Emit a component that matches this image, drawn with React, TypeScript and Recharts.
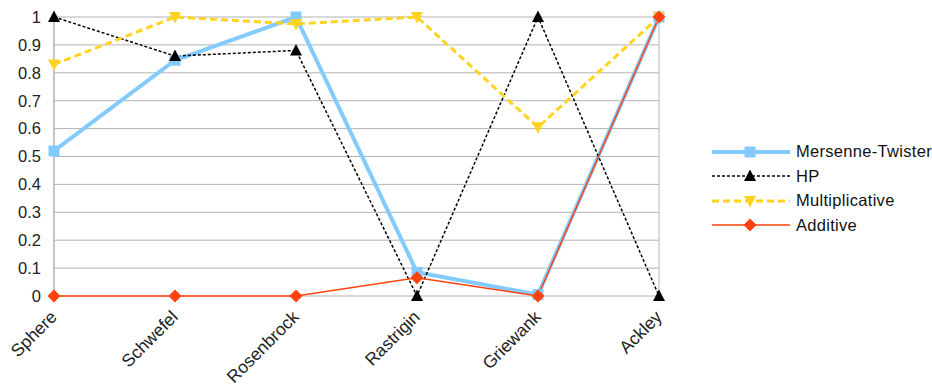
import React from 'react';
import { LineChart, Line, XAxis, YAxis, CartesianGrid } from 'recharts';

// Normalised results per benchmark function
const functions = ['Sphere', 'Schwefel', 'Rosenbrock', 'Rastrigin', 'Griewank', 'Ackley'];
const mersenneTwister = [0.52, 0.845, 1.0, 0.085, 0.005, 1.0];
const hp = [1.0, 0.86, 0.88, 0, 1.0, 0];
const multiplicative = [0.83, 1.0, 0.975, 1.0, 0.605, 1.0];
const additive = [0, 0, 0, 0.065, 0, 1.0];
const yTicks = [0, 0.1, 0.2, 0.3, 0.4, 0.5, 0.6, 0.7, 0.8, 0.9, 1];

const data = functions.map((name, i) => ({
  name,
  mt: mersenneTwister[i],
  hp: hp[i],
  mul: multiplicative[i],
  add: additive[i],
}));

const FONT = '"Liberation Sans", Arial, sans-serif';
const BLUE = '#83caff';
const YELLOW = '#ffd320';
const RED = '#ff420e';

type DotProps = { cx?: number; cy?: number; index?: number };

const Square = ({ cx = 0, cy = 0, color }: DotProps & { color: string }) => (
  <rect x={cx - 5.5} y={cy - 5.5} width={11} height={11} fill={color} />
);
const TriUp = ({ cx = 0, cy = 0, color }: DotProps & { color: string }) => (
  <path d={`M${cx},${cy - 6.5} L${cx + 6},${cy + 5} L${cx - 6},${cy + 5} Z`} fill={color} />
);
const TriDown = ({ cx = 0, cy = 0, color }: DotProps & { color: string }) => (
  <path d={`M${cx},${cy + 6.5} L${cx + 6},${cy - 5} L${cx - 6},${cy - 5} Z`} fill={color} />
);
const Diamond = ({ cx = 0, cy = 0, color }: DotProps & { color: string }) => (
  <path d={`M${cx},${cy - 6.5} L${cx + 6.5},${cy} L${cx},${cy + 6.5} L${cx - 6.5},${cy} Z`} fill={color} />
);

const series = [
  { key: 'mt', label: 'Mersenne-Twister', color: BLUE, width: 4, dash: undefined as string | undefined, Marker: Square },
  { key: 'hp', label: 'HP', color: '#000000', width: 1.5, dash: '3 2', Marker: TriUp },
  { key: 'mul', label: 'Multiplicative', color: YELLOW, width: 3, dash: '7 4', Marker: TriDown },
  { key: 'add', label: 'Additive', color: RED, width: 1.5, dash: undefined, Marker: Diamond },
];

const XTick = (props: any) => {
  const { x, y, payload } = props;
  const ax = x + 4;
  const ay = y + 14;
  return (
    <text
      x={ax}
      y={ay}
      transform={`rotate(-45 ${ax} ${ay})`}
      textAnchor="end"
      fontFamily={FONT}
      fontSize={17.5}
      fill="#222"
    >
      {payload.value}
    </text>
  );
};

const LegendBox = () => (
  <div
    style={{
      position: 'absolute',
      left: 712,
      top: 139.5,
      fontFamily: FONT,
      fontSize: 16.5,
      letterSpacing: 0.3,
      color: '#111',
    }}
  >
    {series.map((s) => (
      <div key={s.key} style={{ display: 'flex', alignItems: 'center', height: 24.5 }}>
        <svg width={84} height={16} style={{ display: 'block' }}>
          <line x1={0} y1={8} x2={78} y2={8} stroke={s.color} strokeWidth={s.width} strokeDasharray={s.dash} />
          <s.Marker cx={38} cy={8} color={s.color} />
        </svg>
        <span style={{ whiteSpace: 'nowrap' }}>{s.label}</span>
      </div>
    ))}
  </div>
);

export default function App() {
  return (
    <div style={{ position: 'absolute', left: 0, top: 0, width: 932, height: 386, overflow: 'hidden', background: '#fff' }}>
      <LineChart
        width={932}
        height={386}
        data={data}
        margin={{ top: 17, right: 273, bottom: 0, left: 0 }}
      >
        <CartesianGrid
          stroke="#b3b3b3"
          verticalCoordinatesGenerator={({ offset }: any) => [offset.left, offset.left + offset.width]}
        />
        <XAxis
          dataKey="name"
          height={90}
          axisLine={false}
          tickLine={false}
          interval={0}
          padding={{ left: 0, right: 0 }}
          tick={<XTick />}
        />
        <YAxis
          width={54}
          domain={[0, 1]}
          ticks={yTicks}
          interval={0}
          tickFormatter={(v: number) => String(Math.round(v * 10) / 10)}
          axisLine={{ stroke: '#b3b3b3' }}
          tickLine={false}
          tickMargin={7}
          tick={{ fontFamily: FONT, fontSize: 16.5, fill: '#222' }}
        />
        {series.map((s) => (
          <Line
            key={s.key}
            type="linear"
            dataKey={s.key}
            stroke={s.color}
            strokeWidth={s.width}
            strokeDasharray={s.dash}
            isAnimationActive={false}
            dot={(p: any) => <s.Marker key={`${s.key}-${p.index}`} cx={p.cx} cy={p.cy} color={s.color} />}
            activeDot={false}
          />
        ))}
      </LineChart>
      <LegendBox />
    </div>
  );
}
